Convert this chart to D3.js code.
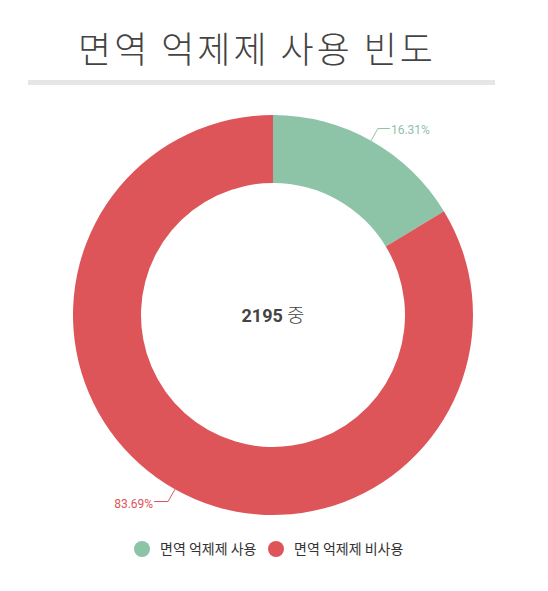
<!DOCTYPE html>
<html>
<head>
<meta charset="utf-8">
<script src="https://cdn.jsdelivr.net/npm/d3@7"></script>
<style>
  body { margin: 0; background: #fff; }
  text { font-family: Roboto, "Noto Sans CJK KR", sans-serif; }
</style>
</head>
<body>
<svg id="chart" width="548" height="591"></svg>
<script>
const title = "면역 억제제 사용 빈도"
const categories = ["면역 억제제 사용", "면역 억제제 비사용"]
const values = [358, 1837]
const colours = ["#8dc3a7", "#dd5558"]
const total = 2195

const width = 548, height = 591
const cx = 273, cy = 315
const outerR = 200, innerR = 132

const svg = d3.select("#chart")

// title + underline
svg.append("text")
  .attr("x", 257).attr("y", 63)
  .attr("text-anchor", "middle")
  .style("font-family", "'Noto Sans CJK KR', sans-serif")
  .style("font-weight", 300)
  .style("font-size", "36px")
  .style("letter-spacing", "3px")
  .attr("fill", "#444")
  .text(title)

svg.append("rect")
  .attr("x", 28).attr("y", 80)
  .attr("width", 467).attr("height", 5)
  .attr("fill", "#e6e6e6")

const pie = d3.pie().sort(null).value(d => d)
const arcs = pie(values)
const arc = d3.arc().innerRadius(innerR).outerRadius(outerR)

const g = svg.append("g").attr("transform", "translate(" + cx + "," + cy + ")")

g.selectAll("path.slice")
  .data(arcs)
  .enter().append("path")
  .attr("class", "slice")
  .attr("d", arc)
  .attr("fill", (d, i) => colours[i])

// leader lines + percent labels
const fmt = d3.format(".2%")
arcs.forEach((d, i) => {
  const a = (d.startAngle + d.endAngle) / 2
  const p0 = [Math.sin(a) * outerR, -Math.cos(a) * outerR]
  const p1 = [Math.sin(a) * 214, -Math.cos(a) * 214]
  const right = Math.sin(a) >= 0
  const p2 = [p1[0] + (right ? 12 : -14), p1[1]]
  g.append("polyline")
    .attr("points", [p0, p1, p2].map(p => p.join(",")).join(" "))
    .attr("fill", "none")
    .attr("stroke", colours[i])
    .attr("stroke-width", 1)
  g.append("text")
    .attr("x", p2[0] + (right ? 1 : -1))
    .attr("y", p2[1] + 6)
    .attr("text-anchor", right ? "start" : "end")
    .style("font-size", "12px")
    .attr("fill", colours[i])
    .text(fmt(d.value / total))
})

// center label
const center = g.append("text")
  .attr("text-anchor", "middle")
  .attr("y", 7)
  .attr("fill", "#444")
  .style("font-size", "18px")
center.append("tspan").style("font-weight", "bold").text(total)
center.append("tspan").style("font-family", "'Noto Sans CJK KR'").style("font-weight", 300)
  .style("font-size", "19px").text(" 중")

// legend
const legendX = [142, 276]
const legend = svg.selectAll("g.legend")
  .data(categories)
  .enter().append("g")
  .attr("class", "legend")
  .attr("transform", (d, i) => "translate(" + legendX[i] + ",549)")
legend.append("circle").attr("r", 8).attr("fill", (d, i) => colours[i])
legend.append("text")
  .attr("x", 18).attr("y", 5)
  .style("font-size", "14px")
  .style("font-family", "'Noto Sans CJK KR', sans-serif")
  .attr("fill", "#333")
  .text(d => d)
</script>
</body>
</html>
